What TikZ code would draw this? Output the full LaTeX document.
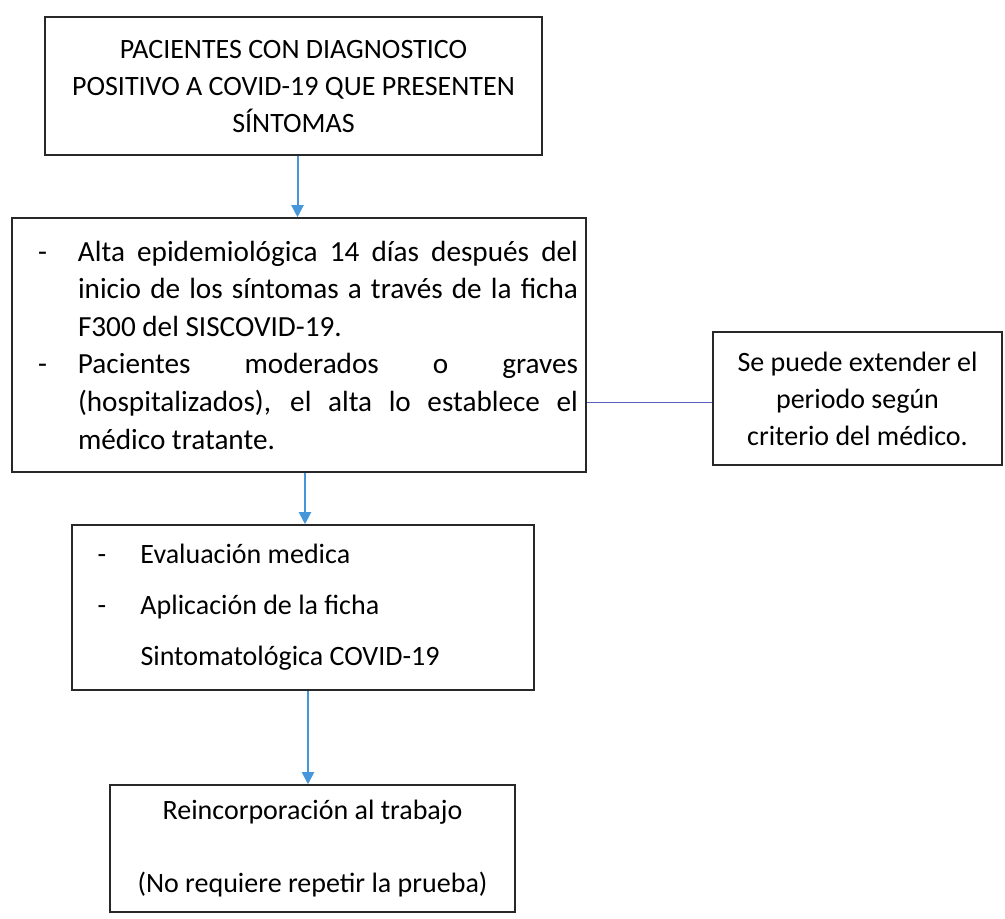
\documentclass[tikz,border=0pt]{standalone}
\usepackage{fontspec}
\setmainfont{Carlito}
\usepackage{tikz}
\usetikzlibrary{arrows.meta, positioning, calc}
\definecolor{mydark}{RGB}{40,40,40}
\definecolor{myblue}{RGB}{70,150,220}
\definecolor{mylink}{RGB}{90,100,190}
\tikzset{
  box/.style={rectangle, draw=mydark, line width=0.8pt, inner sep=0pt,
    align=center, font=\fontsize{14pt}{18.5pt}\selectfont},
  arrow/.style={-{Triangle[width=6pt,length=6pt]}, line width=1pt, color=myblue},
  sideline/.style={line width=0.9pt, color=mylink}
}
\newcommand{\itemdash}[1]{\makebox[#1][l]{-}}

\begin{document}
\begin{tikzpicture}[x=0.5pt, y=-0.5pt]
  \useasboundingbox (0,0) rectangle (1005,918);

  % Boxes of the main flow
  \node[box, minimum width=248.5pt, minimum height=69pt] (pacientes) at (293.5, 86)
    {PACIENTES CON DIAGNOSTICO\\POSITIVO A COVID-19 QUE PRESENTEN\\SÍNTOMAS};

  \node[box, minimum width=287pt, minimum height=127pt] (alta) at (299, 345)
    {\hspace*{13pt}\parbox{270pt}{\fontsize{14.6pt}{18.8pt}\selectfont
      \hyphenpenalty=10000\emergencystretch=20pt
      \hangindent=20pt\hangafter=1\noindent\itemdash{20pt}Alta epidemiológica 14 días después del\linebreak
      inicio de los síntomas a través de la ficha\linebreak F300 del SISCOVID-19.\par
      \hangindent=20pt\hangafter=1\noindent\itemdash{20pt}Pacientes moderados o graves\linebreak
      (hospitalizados), el alta lo establece el\linebreak médico tratante.}\hspace*{4pt}};

  \node[box, minimum width=144.5pt, minimum height=66.5pt] (extender) at (857.5, 398.5)
    {Se puede extender el\\periodo según\\criterio del médico.};

  \node[box, minimum width=231pt, minimum height=82.5pt] (evaluacion) at (303, 607.5)
    {\hspace*{12.5pt}\parbox{218pt}{\fontsize{14pt}{25.5pt}\selectfont\raggedright
      \itemdash{21.5pt}Evaluación medica\\
      \itemdash{21.5pt}Aplicación de la ficha\\
      \hspace*{21.5pt}Sintomatológica COVID-19}};

  \node[box, minimum width=202.5pt, minimum height=63.5pt] (reincorporacion) at (312.5, 848.5)
    {Reincorporación al trabajo\\[18pt](No requiere repetir la prueba)};

  % Connectors
  \draw[arrow] ([xshift=2pt]pacientes.south) -- ([xshift=2pt]pacientes.south |- alta.north);
  \draw[arrow] ([xshift=3pt]alta.south) -- ([xshift=3pt]alta.south |- evaluacion.north);
  \draw[arrow] ([xshift=2.5pt]evaluacion.south) -- ([xshift=2.5pt]evaluacion.south |- reincorporacion.north);
  \draw[sideline] ([yshift=-2pt]alta.east |- extender.west) -- ([yshift=-2pt]extender.west);
\end{tikzpicture}
\end{document}
